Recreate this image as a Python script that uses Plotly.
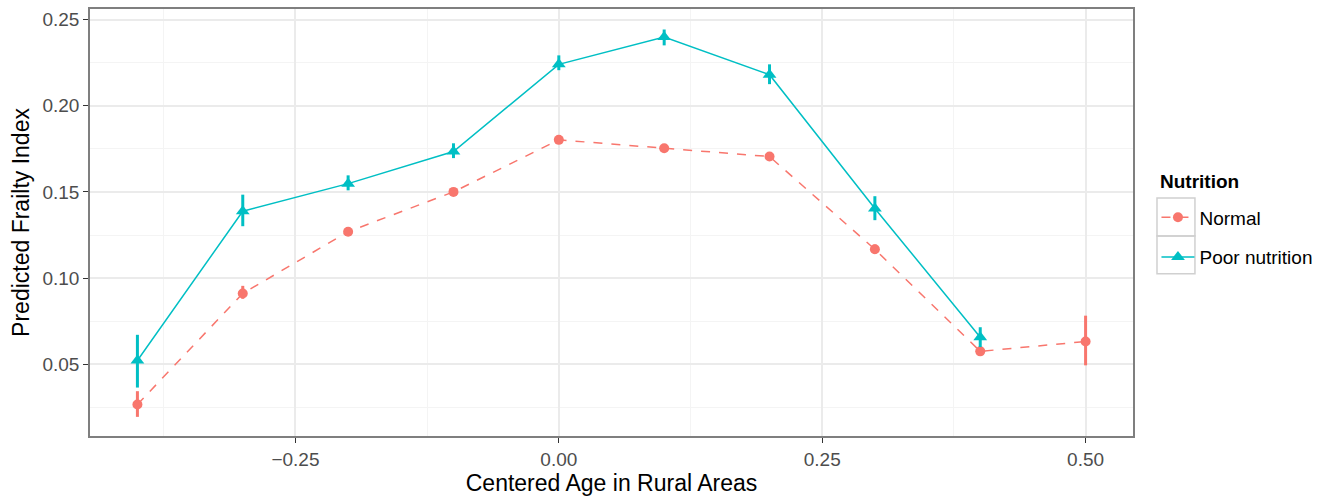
import plotly.graph_objects as go

# Data
x_normal = [-0.4, -0.3, -0.2, -0.1, 0.0, 0.1, 0.2, 0.3, 0.4, 0.5]
y_normal = [0.0267, 0.0911, 0.1269, 0.1500, 0.1802, 0.1753, 0.1705, 0.1167, 0.0575, 0.0632]
lo_normal = [0.0195, 0.0880, 0.1250, 0.1480, 0.1780, 0.1735, 0.1690, 0.1140, 0.0555, 0.0494]
hi_normal = [0.0344, 0.0955, 0.1290, 0.1520, 0.1820, 0.1770, 0.1720, 0.1195, 0.0595, 0.0782]

x_poor = [-0.4, -0.3, -0.2, -0.1, 0.0, 0.1, 0.2, 0.3, 0.4]
y_poor = [0.0522, 0.1388, 0.1548, 0.1734, 0.2240, 0.2398, 0.2180, 0.1404, 0.0657]
lo_poor = [0.0365, 0.1301, 0.1509, 0.1696, 0.2206, 0.2350, 0.2125, 0.1336, 0.0600]
hi_poor = [0.0671, 0.1484, 0.1596, 0.1782, 0.2292, 0.2442, 0.2240, 0.1475, 0.0715]

x_ticks = [-0.25, 0.0, 0.25, 0.50]
y_ticks = [0.05, 0.10, 0.15, 0.20, 0.25]

RED = "#F8766D"
TEAL = "#00BFC4"
FONT = "Liberation Sans, Arial, sans-serif"

fig = go.Figure()
fig.add_trace(go.Scatter(
    x=x_normal, y=y_normal, name="Normal", mode="lines+markers", legendgroup="a",
    line=dict(color=RED, width=1.5, dash="dash"),
    marker=dict(symbol="circle", size=10, color=RED),
    error_y=dict(type="data", symmetric=False,
                 array=[h - y for h, y in zip(hi_normal, y_normal)],
                 arrayminus=[y - l for l, y in zip(lo_normal, y_normal)],
                 color=RED, thickness=3, width=0),
))
fig.add_trace(go.Scatter(
    x=x_poor, y=y_poor, name="Poor nutrition", mode="lines+markers", legendgroup="b",
    line=dict(color=TEAL, width=1.5),
    marker=dict(symbol="triangle-up", size=12, color=TEAL),
    error_y=dict(type="data", symmetric=False,
                 array=[h - y for h, y in zip(hi_poor, y_poor)],
                 arrayminus=[y - l for l, y in zip(lo_poor, y_poor)],
                 color=TEAL, thickness=3, width=0),
))

axis_common = dict(
    showline=True, mirror=True, linecolor="#7f7f7f", linewidth=1.5,
    ticks="outside", ticklen=5, tickcolor="#333333", tickwidth=1,
    showgrid=True, gridcolor="#EBEBEB", gridwidth=1.5, zeroline=False,
    tickfont=dict(family=FONT, size=19, color="#4D4D4D"),
    tickformat=".2f",
)

# legend key boxes (ggplot-style key backgrounds)
key_box = dict(type="rect", xref="paper", yref="paper", x0=1.023, x1=1.0594,
               line=dict(color="#D0D0D0", width=1.5), fillcolor="rgba(0,0,0,0)", layer="below")

fig.update_layout(
    width=1337, height=504,
    margin=dict(l=90, r=204, t=7, b=68),
    paper_bgcolor="white", plot_bgcolor="white",
    font=dict(family=FONT, size=19, color="black"),
    xaxis=dict(**axis_common, range=[-0.445, 0.545], tickvals=x_ticks,
               minor=dict(showgrid=True, gridcolor="#F4F4F4", gridwidth=1, tickvals=[-0.375, -0.125, 0.125, 0.375]),
               title=dict(text="Centered Age in Rural Areas", font=dict(family=FONT, size=23, color="black"), standoff=6)),
    yaxis=dict(**axis_common, range=[0.0084, 0.2561], tickvals=y_ticks,
               minor=dict(showgrid=True, gridcolor="#F4F4F4", gridwidth=1, tickvals=[0.025, 0.075, 0.125, 0.175, 0.225]),
               title=dict(text="Predicted Frailty Index", font=dict(family=FONT, size=23, color="black"), standoff=6)),
    legend=dict(
        x=1.0225, xanchor="left", y=0.5565, yanchor="top",
        font=dict(family=FONT, size=19, color="black"),
        bgcolor="rgba(0,0,0,0)", tracegroupgap=12, itemwidth=33, traceorder="grouped",
    ),
    annotations=[dict(
        text="<b>Nutrition</b>", xref="paper", yref="paper",
        x=1.024, xanchor="left", y=0.597, yanchor="middle",
        showarrow=False, font=dict(family=FONT, size=19, color="black"),
    )],
    shapes=[dict(key_box, y0=0.4685, y1=0.5571), dict(key_box, y0=0.3800, y1=0.4685)],
    showlegend=True,
)

fig.write_html("out.html")
